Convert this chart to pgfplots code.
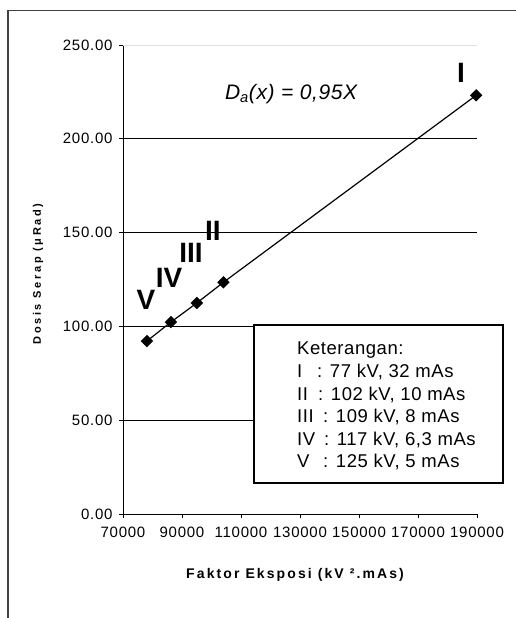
\documentclass[border=0pt]{standalone}
\usepackage{fontspec}
\setmainfont{Liberation Sans}
\newfontfamily\spfont[LetterSpace=3]{Liberation Sans}
\newfontfamily\tkfont[LetterSpace=5]{Liberation Sans}
\newfontfamily\labfont[LetterSpace=15]{Liberation Sans}
\newfontfamily\ylabfont[LetterSpace=24]{Liberation Sans}
\usepackage{pgfplots}
\pgfplotsset{compat=1.18}
\begin{document}
\begin{tikzpicture}
\useasboundingbox (-123pt,-104pt) rectangle (393pt,514pt);
\fill[white] (-123pt,-104pt) rectangle (393pt,514pt);
\draw[line width=1.3pt, black!75] (-115pt,-120pt) -- (-115pt,503.5pt) -- (410pt,503.5pt);
\begin{axis}[
  at={(0pt,0pt)}, anchor=south west,
  scale only axis, width=354pt, height=469pt,
  xmin=70000, xmax=190000, ymin=0, ymax=250,
  axis x line*=bottom, axis y line*=left,
  axis line style={line width=0.9pt},
  xtick={70000,90000,110000,130000,150000,170000,190000},
  ytick={0,50,100,150,200},
  extra y ticks={250},
  extra y tick style={grid style={black!12, line width=0.8pt}},
  ymajorgrids, grid style={black, line width=0.7pt},
  tick align=outside, major tick length=4pt,
  tick style={black, line width=0.9pt},
  scaled x ticks=false, scaled y ticks=false,
  x tick label style={/pgf/number format/.cd, fixed, 1000 sep={}, assume math mode=true, /tikz/.cd, yshift=-5.5pt},
  y tick label style={/pgf/number format/.cd, fixed, fixed zerofill, precision=2, assume math mode=true, /tikz/.cd, xshift=-3pt},
  tick label style={font=\tkfont\fontsize{15}{17}\selectfont},
  xlabel={Faktor Eksposi (kV ².mAs)},
  ylabel={Dosis Serap (μRad)},
  xlabel style={at={(rel axis cs:0.486,-0.130)}, anchor=center, font=\labfont\bfseries\fontsize{14}{15}\selectfont},
  ylabel style={at={(rel axis cs:-0.240,0.512)}, anchor=center, font=\ylabfont\bfseries\fontsize{11}{12}\selectfont},
  clip=false,
]
\addplot[black, line width=1.2pt, mark=square*, mark size=3.8pt, mark options={rotate=45, fill=black, solid}]
  coordinates {(78125,92.2) (86240,102.3) (95048,112.5) (104040,123.5) (189728,223.2)};
\node[font=\bfseries\fontsize{28}{28}\selectfont] at (axis cs:184600,235) {I};
\node[font=\bfseries\fontsize{28}{28}\selectfont] at (axis cs:100500,151) {II};
\node[font=\bfseries\fontsize{28}{28}\selectfont] at (axis cs:93050,139) {III};
\node[font=\bfseries\fontsize{28}{28}\selectfont] at (axis cs:85600,126) {IV};
\node[font=\bfseries\fontsize{28}{28}\selectfont] at (axis cs:77800,114) {V};
\node[font=\spfont\itshape\fontsize{21}{21}\selectfont] at (axis cs:127000,224) {D\textsubscript{a}(x) = 0,95X};
\end{axis}
\draw[line width=1.3pt, fill=white] (131pt,31pt) rectangle (380pt,189pt);
\begin{scope}[every node/.style={anchor=base west, inner sep=0pt, font=\spfont\fontsize{18.5}{20}\selectfont}]
\node at (174pt,159pt) {Keterangan:};
\node at (174pt,136pt) {\makebox[20pt][l]{I}: 77 kV, 32 mAs};
\node at (174pt,113.5pt) {\makebox[21pt][l]{II}: 102 kV, 10 mAs};
\node at (174pt,91pt) {\makebox[26pt][l]{III}: 109 kV, 8 mAs};
\node at (174pt,68pt) {\makebox[27pt][l]{IV}: 117 kV, 6,3 mAs};
\node at (174pt,46pt) {\makebox[26pt][l]{V}: 125 kV, 5 mAs};
\end{scope}
\end{tikzpicture}
\end{document}
